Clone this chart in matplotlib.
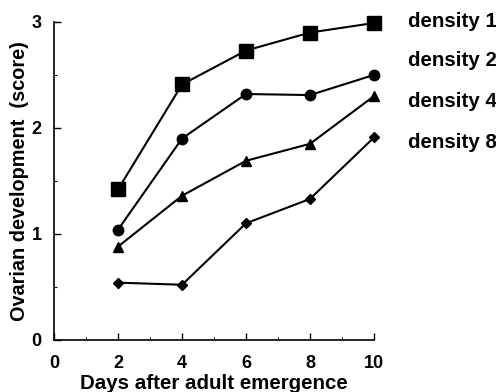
import matplotlib
matplotlib.use("Agg")
import matplotlib.pyplot as plt
from matplotlib.ticker import MultipleLocator

# --- DATEN ---
days = [2, 4, 6, 8, 10]
density_1 = [1.42, 2.41, 2.73, 2.90, 2.99]
density_2 = [1.04, 1.90, 2.32, 2.31, 2.50]
density_4 = [0.88, 1.36, 1.69, 1.85, 2.30]
density_8 = [0.54, 0.52, 1.10, 1.33, 1.91]
labels = ["density 1", "density 2", "density 4", "density 8"]

plt.rcParams['font.family'] = ['Liberation Sans', 'DejaVu Sans']
plt.rcParams['font.weight'] = 'bold'

fig = plt.figure(figsize=(4.96, 3.92), dpi=100)
ax = fig.add_axes([0.109, 0.133, 0.645, 0.811])

series = [density_1, density_2, density_4, density_8]
markers = [("s", 10), ("o", 7.5), ("^", 7.5), ("D", 5.5)]
for vals, (m, ms) in zip(series, markers):
    ax.plot(days, vals, color="black", linewidth=1.5, marker=m, markersize=ms,
            clip_on=False, zorder=3)

ax.set_xlim(0, 10)
ax.set_ylim(0, 3)
ax.xaxis.set_major_locator(MultipleLocator(2))
ax.xaxis.set_minor_locator(MultipleLocator(1))
ax.yaxis.set_major_locator(MultipleLocator(1))
ax.yaxis.set_minor_locator(MultipleLocator(0.5))
ax.tick_params(which="major", direction="in", length=5, width=1, labelsize=13)
ax.tick_params(which="minor", direction="in", length=2.5, width=0.8)
ax.tick_params(axis="x", pad=11)
ax.tick_params(axis="y", pad=9)
for side in ["top", "right"]:
    ax.spines[side].set_visible(False)
for side in ["left", "bottom"]:
    ax.spines[side].set_linewidth(1.2)

ax.set_xlabel("Days after adult emergence", fontsize=14.8, fontweight="bold", labelpad=1)
ax.set_ylabel("Ovarian development  (score)", fontsize=14.3, fontweight="bold", labelpad=2)

# Beschriftung rechts (ohne Symbole)
label_y = [3.0, 2.64, 2.25, 1.86]
for lab, yy in zip(labels, label_y):
    ax.text(11.06, yy, lab, fontsize=14.8, fontweight="bold", va="center", ha="left",
            clip_on=False)

fig.savefig("out.png", dpi=100)
